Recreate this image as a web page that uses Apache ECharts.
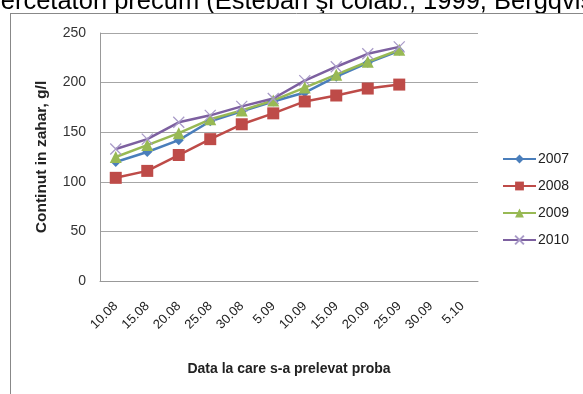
<!DOCTYPE html>
<html>
<head>
<meta charset="utf-8">
<script src="https://cdn.jsdelivr.net/npm/echarts@6/dist/echarts.min.js"></script>
<style>
  html, body { margin: 0; padding: 0; background: #fff; }
  #chart { width: 583px; height: 394px; }
</style>
</head>
<body>
<div id="chart"></div>
<script>
// Sampling dates and sugar content (g/l) per harvest year
const dates = ['10.08', '15.08', '20.08', '25.08', '30.08', '5.09', '10.09', '15.09', '20.09', '25.09', '30.09', '5.10'];
const y2007 = [120, 130, 142, 161, 171, 181, 190, 206, 220, 232];
const y2008 = [104, 111, 127, 143, 158, 169, 181, 187, 194, 198];
const y2009 = [125, 137, 149, 163, 172, 182, 195, 208, 221, 233];
const y2010 = [133, 143, 160, 167, 176, 184, 202, 216, 229, 236];
const yearNames = ['2007', '2008', '2009', '2010'];

const font = 'Liberation Sans, Arial, sans-serif';
const chart = echarts.init(document.getElementById('chart'));

function lineSeries(name, data, color, symbol, size, extra) {
  return Object.assign({
    name: name,
    type: 'line',
    data: data,
    symbol: symbol,
    symbolSize: size,
    lineStyle: { color: color, width: 2.5 },
    itemStyle: { color: color },
    emphasis: { disabled: true },
    z: 3
  }, extra || {});
}

chart.setOption({
  animation: false,
  textStyle: { fontFamily: font },
  grid: { left: 100, right: 105, top: 33, bottom: 113 },
  legend: {
    orient: 'vertical',
    left: 502,
    top: 152,
    padding: 0,
    itemWidth: 33,
    itemHeight: 11,
    itemGap: 13,
    textStyle: { fontSize: 14, color: '#222', fontFamily: font, padding: [0, 0, 0, -3] },
    data: yearNames
  },
  xAxis: {
    type: 'category',
    data: dates,
    boundaryGap: true,
    name: 'Data la care s-a prelevat proba',
    nameLocation: 'middle',
    nameGap: 81,
    nameTextStyle: { fontSize: 14, fontWeight: 'bold', color: '#222', fontFamily: font },
    axisLine: { lineStyle: { color: '#999', width: 1 } },
    axisTick: { show: false },
    axisLabel: { rotate: 45, fontSize: 13, color: '#222', margin: 23, interval: 0 }
  },
  yAxis: {
    type: 'value',
    min: 0,
    max: 250,
    interval: 50,
    name: 'Continut in zahar, g/l',
    nameLocation: 'middle',
    nameGap: 50,
    nameTextStyle: { fontSize: 15.5, fontWeight: 'bold', color: '#222', fontFamily: font },
    axisLine: { show: true, lineStyle: { color: '#999', width: 1 } },
    axisTick: { show: false },
    axisLabel: { fontSize: 14, color: '#333', margin: 14 },
    splitLine: { lineStyle: { color: '#a6a6a6', width: 1 } }
  },
  series: [
    lineSeries('2007', y2007, '#4a7ebb', 'diamond', 10),
    lineSeries('2008', y2008, '#be4b48', 'rect', 12),
    lineSeries('2009', y2009, '#98b954', 'triangle', 12),
    lineSeries('2010', y2010, '#7d60a0', 'path://M0,0L10,10M10,0L0,10', 11, {
      itemStyle: { color: 'rgba(0,0,0,0)', borderColor: '#a99bc8', borderWidth: 1.3 }
    })
  ],
  graphic: [
    {
      type: 'text',
      x: -12,
      y: 15,
      silent: true,
      style: {
        text: 'cercetatori precum (Esteban şi colab., 1999, Bergqvist',
        font: '25.5px ' + font,
        fill: '#000',
        verticalAlign: 'bottom'
      }
    },
    {
      type: 'line',
      silent: true,
      shape: { x1: 10, y1: 13.5, x2: 583, y2: 13.5 },
      style: { stroke: '#888', lineWidth: 1 }
    },
    {
      type: 'line',
      silent: true,
      shape: { x1: 10.5, y1: 13, x2: 10.5, y2: 394 },
      style: { stroke: '#888', lineWidth: 1 }
    }
  ]
});
</script>
</body>
</html>
